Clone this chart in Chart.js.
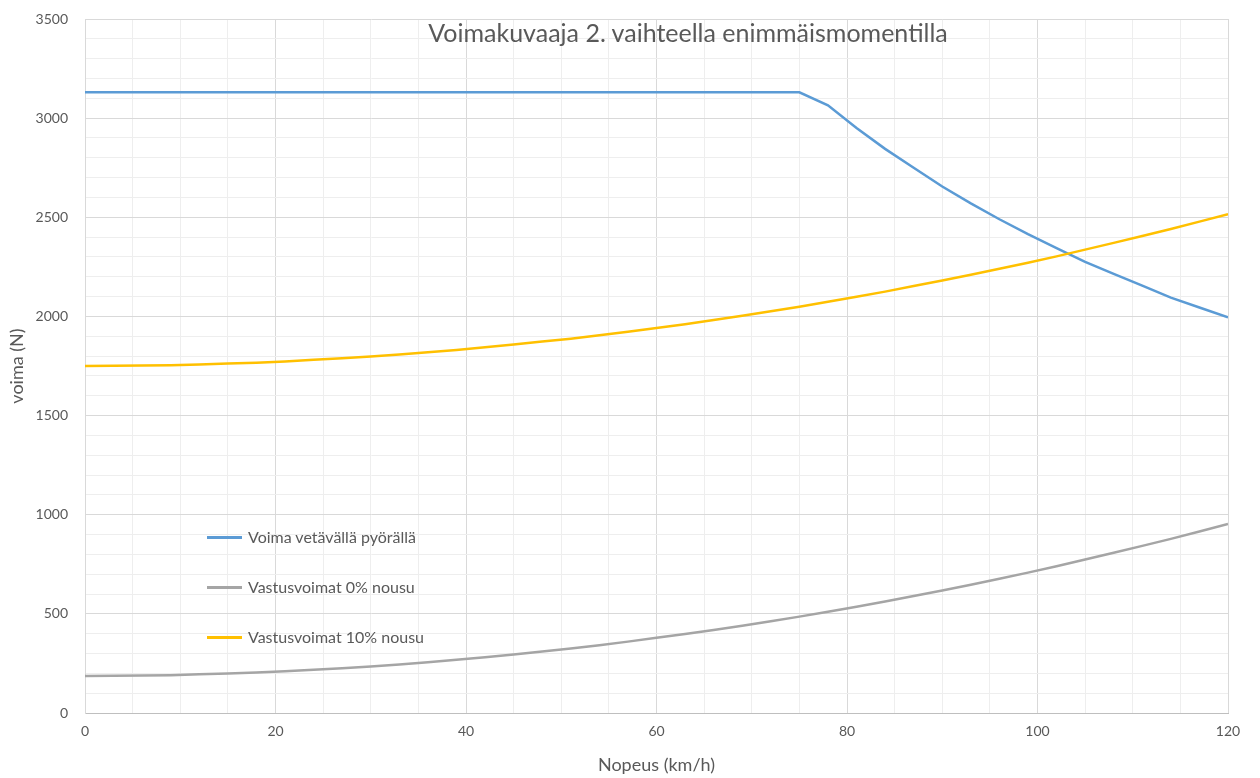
<!DOCTYPE html>
<html>
<head>
<meta charset="utf-8">
<script src="https://cdn.jsdelivr.net/npm/chart.js@4.4.1/dist/chart.umd.min.js"></script>
<style>
  html, body { margin: 0; padding: 0; background: #fff; }
  #wrap { position: relative; width: 1260px; height: 778px; }
  canvas { position: absolute; left: 0; top: 0; }
  .title { position: absolute; left: 116px; width: 1144px; top: 17px; line-height: 30px; text-align: center;
           font-family: Lato, "Open Sans", sans-serif; font-size: 25px; color: #595959; white-space: nowrap; }
  .legend { position: absolute; left: 207px; font-family: Lato, "Open Sans", sans-serif;
            font-size: 16px; color: #595959; white-space: nowrap; line-height: 20px; }
  .legend span.sw { display: inline-block; width: 35px; height: 3px; vertical-align: middle; margin-right: 6px; position: relative; top: -1px; }
</style>
</head>
<body>
<div id="wrap">
  <canvas id="c" width="1260" height="778"></canvas>
  <div class="title">Voimakuvaaja 2. vaihteella enimmäismomentilla</div>
  <div id="legend"></div>
</div>
<script>
// Speed in km/h
const speed = [0, 3, 6, 9, 12, 15, 18, 21, 24, 27, 30, 33, 36, 39, 42, 45, 48, 51, 54, 57, 60,
               63, 66, 69, 72, 75, 78, 81, 84, 87, 90, 93, 96, 99, 102, 105, 108, 111, 114, 117, 120];

// Tractive force at the driven wheel (N)
const driveForce = [3130, 3130, 3130, 3130, 3130, 3130, 3130, 3130, 3130, 3130, 3130, 3130, 3130, 3130,
                    3130, 3130, 3130, 3130, 3130, 3130, 3130, 3130, 3130, 3130, 3130, 3130,
                    3065, 2950, 2845, 2750, 2655, 2570, 2490, 2415, 2345, 2275, 2215, 2155, 2095, 2045, 1995];

// Driving resistance, level road (N)
const resist0 = [187, 188, 189, 191, 195, 199, 204, 210, 218, 226, 235, 245, 256, 268, 281, 295, 310,
                 325, 342, 360, 379, 398, 419, 440, 463, 486, 511, 536, 562, 590, 618, 647, 677, 708,
                 740, 774, 808, 843, 878, 915, 953];

// Driving resistance, 10 % grade (N)
const resist10 = [1750, 1751, 1752, 1754, 1758, 1762, 1767, 1773, 1781, 1789, 1798, 1808, 1819, 1831,
                  1844, 1858, 1873, 1888, 1905, 1923, 1942, 1961, 1982, 2003, 2026, 2049, 2074, 2099,
                  2125, 2153, 2181, 2210, 2240, 2271, 2303, 2337, 2371, 2406, 2441, 2478, 2516];

const seriesNames = ['Voima vetävällä pyörällä', 'Vastusvoimat 0% nousu', 'Vastusvoimat 10% nousu'];
const seriesColors = ['#5B9BD5', '#A5A5A5', '#FFC000'];

const xMajor = 20, xMinor = 5, yMajor = 500, yMinor = 100;
const majorGrid = '#D9D9D9', minorGrid = '#EEEEEE';

function pts(values) { return speed.map((v, i) => ({ x: v, y: values[i] })); }

const datasets = [driveForce, resist0, resist10].map((vals, i) => ({
  label: seriesNames[i],
  data: pts(vals),
  borderColor: seriesColors[i],
  backgroundColor: seriesColors[i],
  borderWidth: 2.5,
  pointRadius: 0,
  tension: 0,
  order: i === 0 ? 2 : (i === 1 ? 1 : 0)
}));

const fontFamily = 'Lato, "Open Sans", sans-serif';
const tickFont = { family: fontFamily, size: 14 };
const axisTitleFont = { family: fontFamily, size: 18 };

new Chart(document.getElementById('c'), {
  type: 'line',
  data: { datasets },
  options: {
    responsive: false,
    animation: false,
    layout: { padding: { top: 19, right: 32, left: 0, bottom: 0 } },
    plugins: { legend: { display: false }, tooltip: { enabled: false } },
    scales: {
      x: {
        type: 'linear', min: 0, max: 120,
        afterFit: s => { s.height = 65; s.paddingLeft = 0; s.paddingRight = 0; },
        ticks: {
          stepSize: xMinor, autoSkip: false, maxRotation: 0, padding: 10,
          color: '#595959', font: tickFont,
          callback: v => (v % xMajor === 0 ? String(v) : '')
        },
        grid: {
          drawTicks: false,
          color: c => (c.tick && c.tick.value % xMajor === 0 ? majorGrid : minorGrid),
          lineWidth: 1
        },
        border: { display: true, color: '#BFBFBF' },
        title: { display: true, text: 'Nopeus (km/h)', color: '#595959', font: axisTitleFont, padding: { top: 0, bottom: 2 } }
      },
      y: {
        type: 'linear', min: 0, max: 3500,
        afterFit: s => { s.width = 85; s.paddingTop = 0; s.paddingBottom = 0; },
        ticks: {
          stepSize: yMinor, autoSkip: false, padding: 17,
          color: '#595959', font: tickFont,
          callback: v => (v % yMajor === 0 ? String(v) : '')
        },
        grid: {
          drawTicks: false,
          color: c => (c.tick && c.tick.value % yMajor === 0 ? majorGrid : minorGrid),
          lineWidth: 1
        },
        border: { display: true, color: majorGrid },
        title: { display: true, text: 'voima (N)', color: '#595959', font: axisTitleFont, padding: { top: 6, bottom: 0 } }
      }
    }
  }
});

// Legend inside the plot area
const legendRows = [527, 577, 627];
const legend = document.getElementById('legend');
seriesNames.forEach((name, i) => {
  const row = document.createElement('div');
  row.className = 'legend';
  row.style.top = legendRows[i] + 'px';
  row.innerHTML = '<span class="sw" style="background:' + seriesColors[i] + '"></span>' + name;
  legend.appendChild(row);
});
</script>
</body>
</html>
